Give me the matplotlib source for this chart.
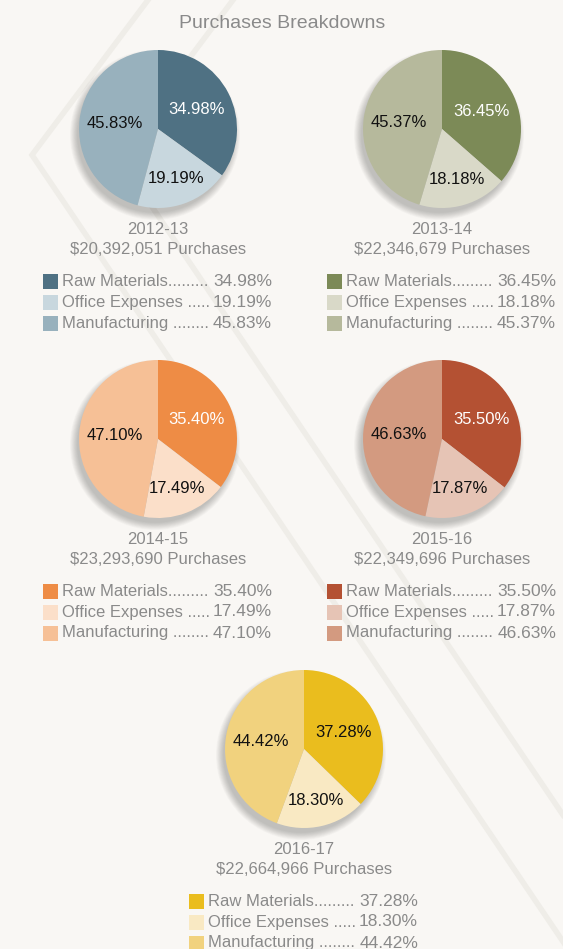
import matplotlib.pyplot as plt
from matplotlib.patches import Circle, Rectangle
import numpy as np

plt.rcParams['font.family'] = ['Liberation Sans', 'DejaVu Sans']

# data
years = ['2012-13', '2013-14', '2014-15', '2015-16', '2016-17']
totals = [20392051, 22346679, 23293690, 22349696, 22664966]
categories = ['Raw Materials', 'Office Expenses', 'Manufacturing']
raw = [34.98, 36.45, 35.40, 35.50, 37.28]
office = [19.19, 18.18, 17.49, 17.87, 18.30]
manuf = [45.83, 45.37, 47.10, 46.63, 44.42]

# colours per year: raw, office, manufacturing
palettes = [
    ['#4f7183', '#c8d7de', '#98b1bd'],
    ['#7c8a57', '#d9d9c8', '#b6b99c'],
    ['#ee8c45', '#fbdfc9', '#f6c096'],
    ['#b45133', '#e6c4b5', '#d39a80'],
    ['#eabd1e', '#f9e9c3', '#f1d27e'],
]
raw_text = ['white', 'white', 'white', 'white', '#111111']
leaders = ['.........', ' .....', ' ........']

W, H = 563, 949
BG = '#f9f7f4'
GREY = '#8a8a8a'
R = 79
centers = [(158, 129), (442, 129), (158, 439), (442, 439), (304, 749)]
label_dist = [0.55, 0.67, 0.55]

fig = plt.figure(figsize=(W / 100, H / 100), dpi=100)
fig.patch.set_facecolor(BG)
ax = fig.add_axes([0, 0, 1, 1])
ax.set_facecolor(BG)

def Y(y):
    return H - y

# faint background chevrons
for pts in ([(148, 0), (32, 155), (568, 949)], [(233, 0), (117, 155), (563, 815)]):
    xs, ys = zip(*pts)
    ax.plot(xs, [Y(v) for v in ys], color='#efede8', lw=4, zorder=0,
            solid_joinstyle='miter')

ax.text(282, Y(23), 'Purchases Breakdowns', ha='center', va='center',
        fontsize=14, color=GREY)

for i, (cx, cy) in enumerate(centers):
    vals = [raw[i], office[i], manuf[i]]
    cols = palettes[i]

    # soft drop shadow, down and to the left
    for k in range(10):
        ax.add_patch(Circle((cx - 3, Y(cy) - 6), R + 6 - k * 0.8, color='black',
                            alpha=0.025, lw=0, zorder=1))

    ax.pie(vals, colors=cols, startangle=90, counterclock=False,
           center=(cx, Y(cy)), radius=R, frame=True,
           wedgeprops=dict(linewidth=0, zorder=2))

    cum = 0
    for j, v in enumerate(vals):
        mid = np.deg2rad(90 - 3.6 * (cum + v / 2))
        cum += v
        d = label_dist[j] * R
        tc = raw_text[i] if j == 0 else '#111111'
        ax.text(cx + d * np.cos(mid), Y(cy) + d * np.sin(mid), f'{v:.2f}%',
                ha='center', va='center', fontsize=12, color=tc, zorder=3)

    ax.text(cx, Y(cy + 100), years[i], ha='center', va='center',
            fontsize=12, color=GREY)
    ax.text(cx, Y(cy + 120), f'${totals[i]:,} Purchases', ha='center',
            va='center', fontsize=12, color=GREY)

    x0 = cx - 115
    for j, cat in enumerate(categories):
        ry = cy + 152 + 21 * j
        ax.add_patch(Rectangle((x0, Y(ry) - 7.5), 15, 15, color=cols[j], lw=0))
        ax.text(x0 + 19, Y(ry), cat + leaders[j], ha='left', va='center',
                fontsize=12, color=GREY)
        ax.text(x0 + 229, Y(ry), f'{vals[j]:.2f}%', ha='right', va='center',
                fontsize=12.5, color=GREY)

ax.set_xlim(0, W)
ax.set_ylim(0, H)
ax.set_aspect('auto')
ax.axis('off')

fig.savefig('out.png', dpi=100, facecolor=BG)
